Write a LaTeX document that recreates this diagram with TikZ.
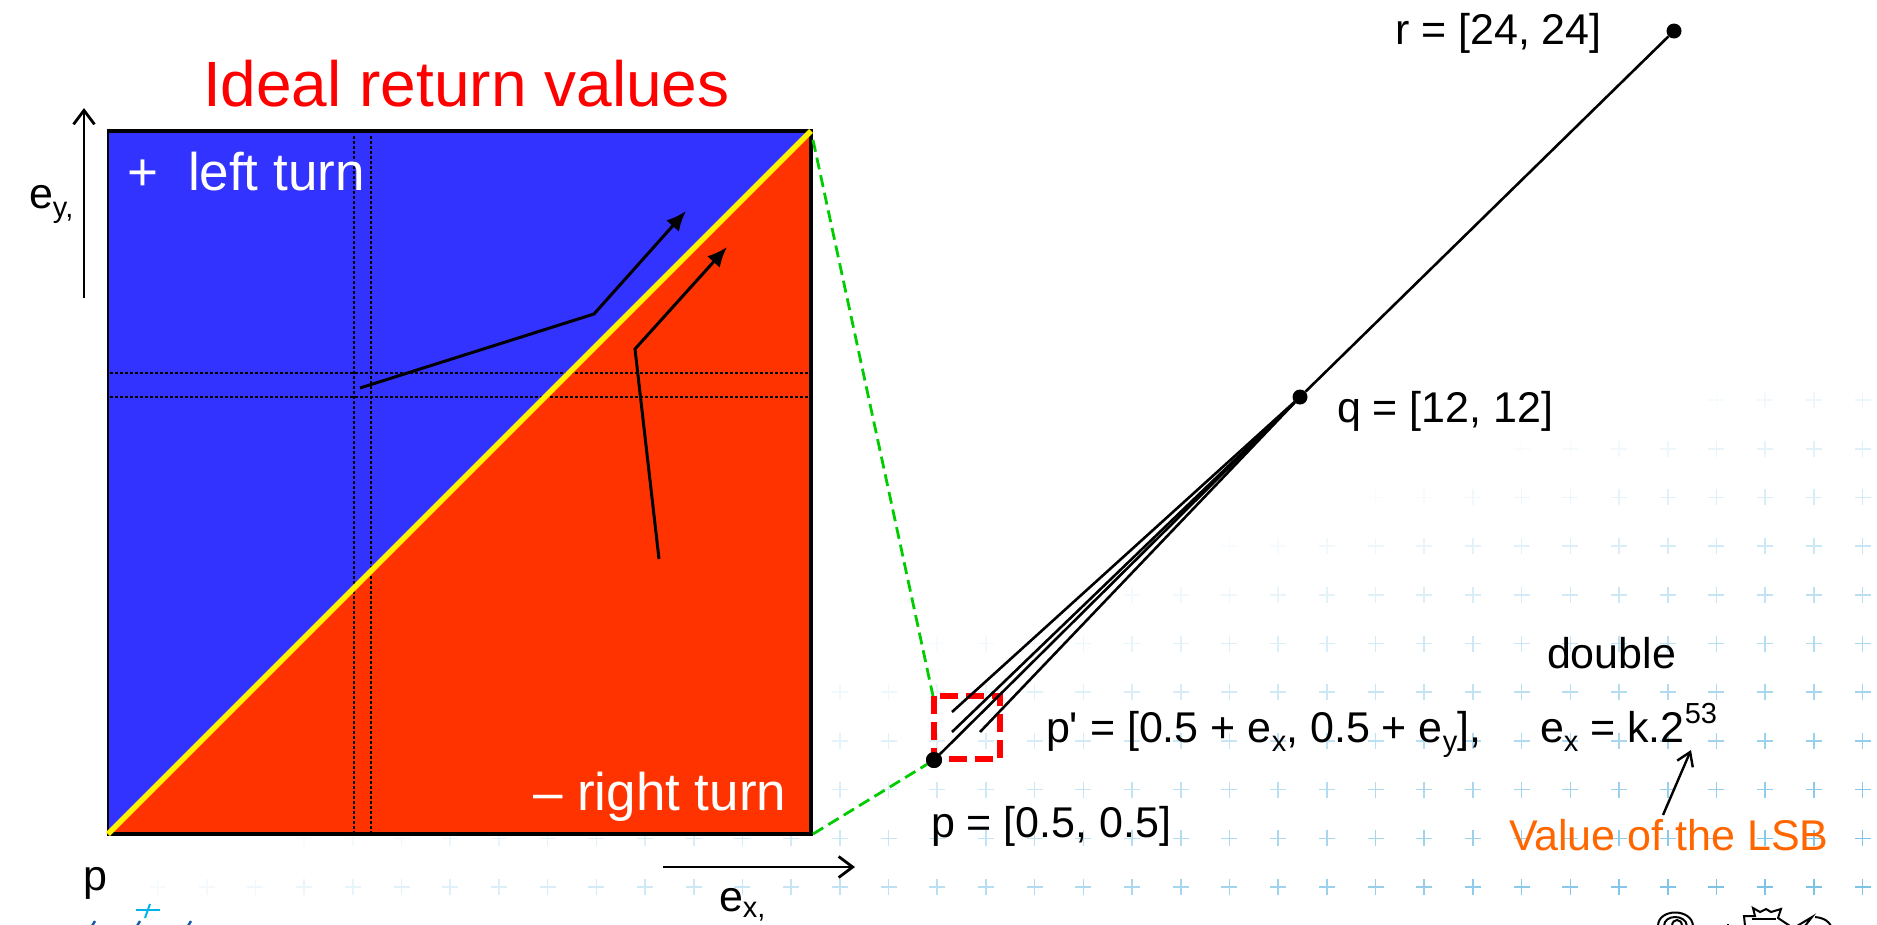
\documentclass[tikz,border=0pt]{standalone}
\usepackage{fontspec}
\setmainfont{Liberation Sans}
\newfontfamily\plainf{Liberation Sans}
\usetikzlibrary{arrows.meta}
\definecolor{bluefill}{RGB}{51,51,255}
\definecolor{redfill}{RGB}{255,51,0}
\definecolor{plusblue}{RGB}{125,195,230}
\definecolor{lsb}{RGB}{255,102,0}
\definecolor{greend}{RGB}{0,204,0}
\definecolor{logoc}{RGB}{0,180,235}
\definecolor{logob}{RGB}{20,90,170}
\newcommand{\fsz}[1]{\fontsize{#1}{#1}\selectfont}
\newcommand{\dn}[1]{\raisebox{-.22em}{\fsz{29}#1}}
\newcommand{\dnn}[1]{\raisebox{-.14em}{\fsz{29}#1}}
\newcommand{\up}[1]{\raisebox{.42em}{\fsz{29}#1}}
\tikzset{
  lbl/.style={anchor=base west,inner sep=0pt,outer sep=0pt,font=\fsz{43}},
  wlbl/.style={lbl,text=white,font=\fsz{53}},
  dot/.style={circle,fill=black,inner sep=0pt,minimum size=16pt},
  guide/.style={line width=2.8pt,dash pattern=on 2.6pt off 2.4pt},
  path1/.style={line width=3pt,-{Latex[length=20pt,width=17pt]}},
  axis/.style={line width=2.8pt,-{Straight Barb[length=14pt,width=21pt,line width=2.8pt]}},
  fan/.style={line width=2.6pt},
  zoomline/.style={greend,line width=2.8pt,dash pattern=on 12pt off 6pt},
  zoombox/.style={draw=red,line width=6pt,dash pattern=on 18pt off 8pt},
  plusmark/.style={plusblue,line width=1.6pt},
  logo/.style={black,line width=2pt}
}
\begin{document}
\begin{tikzpicture}[x=1pt,y=-1pt]
\useasboundingbox (0,0) rectangle (1877,924);
% background plus pattern, fading toward the upper left
\foreach \row in {0,...,10}{
  \foreach \col in {-33,...,4}{
    \pgfmathsetmacro{\px}{1667.7+48.7*\col}
    \pgfmathsetmacro{\py}{887-48.7*\row}
    \pgfmathsetmacro{\sv}{(\py-400)+0.314*(\px-1700)}
    \pgfmathsetmacro{\al}{min(1,max(0,\sv/520+0.06))}
    \ifdim \sv pt>-10pt
      \draw[plusmark,opacity=\al] (\px-8,\py) -- (\px+8,\py) (\px,\py-8) -- (\px,\py+8);
    \fi
  }
}
% square corners
\coordinate (bl) at (108,834);
\coordinate (tl) at (108,131);
\coordinate (tr) at (811,131);
\coordinate (br) at (811,834);
\fill[bluefill] (bl) -- (tl) -- (tr) -- cycle;
\fill[redfill] (bl) -- (br) -- (tr) -- cycle;
% dotted guides
\coordinate (v1t) at (354,136); \coordinate (v1b) at (354,832);
\coordinate (v2t) at (371,136); \coordinate (v2b) at (371,832);
\coordinate (h1l) at (110,373); \coordinate (h1r) at (809,373);
\coordinate (h2l) at (110,397); \coordinate (h2r) at (809,397);
\draw[guide] (v1t) -- (v1b);
\draw[guide] (v2t) -- (v2b);
\draw[guide] (h1l) -- (h1r);
\draw[guide] (h2l) -- (h2r);
% border
\draw[line width=2.5pt] (bl) -- (tl);
\draw[line width=4pt] ([xshift=-1pt]tl) -- ([xshift=2pt]tr);
\draw[line width=4pt] (tr) -- (br);
\draw[line width=4pt] ([xshift=-1pt]bl) -- ([xshift=2pt]br);
\draw[yellow,line width=5.5pt] (bl) -- (tr);
% paths in the square
\coordinate (a0) at (360,388); \coordinate (a1) at (594,314); \coordinate (a2) at (686,211);
\coordinate (b0) at (659,559); \coordinate (b1) at (635,349); \coordinate (b2) at (727,247);
\draw[path1] (a0) -- (a1) -- (a2);
\draw[path1] (b0) -- (b1) -- (b2);
% axes
\coordinate (ey0) at (84,298); \coordinate (ey1) at (84,108);
\coordinate (ex0) at (663,867); \coordinate (ex1) at (855,867);
\draw[axis] (ey0) -- (ey1);
\draw[axis] (ex0) -- (ex1);
% right part
\node[dot] (p) at (934,760) {};
\node[dot,minimum size=15pt] (q) at (1300,397) {};
\node[dot,minimum size=15pt] (r) at (1674,31) {};
\coordinate (f1) at (952,712);
\coordinate (f2) at (952,732);
\coordinate (f3) at (980,732);
\draw[zoomline] (813,140) -- (933,696);
\draw[zoomline] (813,834) -- (p);
\draw[zoombox] (934,696) rectangle (1000,759);
\draw[fan] (p) -- (q);
\draw[fan] (f1) -- (q);
\draw[fan] (f2) -- (q);
\draw[fan] (f3) -- (q);
\draw[fan] (q) -- (r);
\node[dot] at (p) {};
% texts
\node[lbl,text=red,font=\fsz{64}] (title) at (203,106) {Ideal return values};
\node[wlbl] (plus) at (127,190) {+};
\node[wlbl] (left) at (188,190) {left turn};
\node[wlbl] (right) at (533,810) {– right turn};
\node[lbl] (ey) at (29,208) {e\dn{y,}};
\node[lbl] (ex) at (719,911) {e\dnn{x,}};
\node[lbl] (plab) at (83,890) {p};
\node[lbl] (rlab) at (1395,44) {r = [24, 24]};
\node[lbl] (qlab) at (1337,422) {q = [12, 12]};
\node[lbl] (dbl) at (1547,668) {double};
\node[lbl] (pp) at (1046,742) {p{\plainf '} = [0.5 + e\dn{x}, 0.5 + e\dn{y}],};
\node[lbl] (exk) at (1540,742) {e\dn{x} = k.2\up{53}};
\node[lbl] (plab2) at (931,837) {p = [0.5, 0.5]};
\node[lbl,text=lsb] (lsbn) at (1509,850) {Value of the LSB};
\coordinate (lsbtip) at (1691,750);
\coordinate (lsbtail) at (1663,815);
\draw[line width=2.4pt,-{Straight Barb[length=13pt,width=17pt,line width=2.4pt]}] (lsbtail) -- (lsbtip);
% cropped logos along the lower edge
\begin{scope}
\clip (0,0) rectangle (1877,924);
\draw[logoc,line width=2pt] (136,910) -- (160,910);
\draw[logoc,line width=2pt] (145,918) -- (150,904);
\draw[logob,line width=2.4pt] (92,926) -- (95,921) (137,926) -- (140,921) (188,926) -- (191,921);
\draw[logo] (1658,926) .. controls (1658,908) and (1692,908) .. (1693,926);
\draw[logo] (1664,926) .. controls (1664,914) and (1686,914) .. (1687,926);
\draw[logo] (1672,926) .. controls (1672,918) and (1682,918) .. (1682,926);
\draw[logo] (1745,926) -- (1744,916) -- (1755,916) -- (1753,908) -- (1760,912) -- (1766,909) -- (1771,912) -- (1781,909) -- (1778,918) -- (1790,926);
\draw[logo] (1752,919) -- (1776,919);
\draw[logo] (1797,926) -- (1812,917) -- (1805,926);
\draw[logo] (1815,917) .. controls (1825,918) and (1829,922) .. (1831,926);
\draw[logo] (1728,924) -- (1728,926);
\end{scope}
\end{tikzpicture}
\end{document}
